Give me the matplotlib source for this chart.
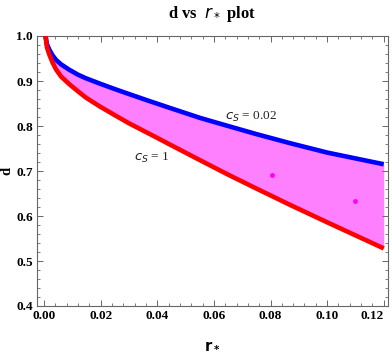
import matplotlib
matplotlib.use("Agg")
import matplotlib.pyplot as plt
import matplotlib.transforms as mtransforms
from matplotlib.ticker import MultipleLocator

# data
r_star = [0.0005, 0.0010, 0.0019, 0.0030, 0.0042, 0.0060, 0.0089, 0.0120, 0.0148, 0.0198,
          0.0250, 0.0300, 0.0374, 0.0450, 0.0551, 0.0650, 0.0750, 0.0868, 0.1000, 0.1100, 0.1200]
d_cs002 = [1.000, 0.982, 0.969, 0.957, 0.947, 0.937, 0.925, 0.914, 0.906, 0.894,
           0.882, 0.871, 0.855, 0.839, 0.818, 0.800, 0.782, 0.762, 0.741, 0.728, 0.715]
d_cs1 = [1.000, 0.975, 0.958, 0.941, 0.926, 0.910, 0.893, 0.877, 0.863, 0.843,
         0.824, 0.806, 0.782, 0.757, 0.724, 0.692, 0.661, 0.625, 0.586, 0.557, 0.528]
dots_r = [0.0805, 0.1100]
dots_d = [0.692, 0.634]
x_ticks = [0.00, 0.02, 0.04, 0.06, 0.08, 0.10, 0.12]
y_ticks = [0.4, 0.5, 0.6, 0.7, 0.8, 0.9, 1.0]

serif = ["Liberation Serif", "DejaVu Serif"]

fig = plt.figure(figsize=(3.92, 3.54), dpi=100)
ax = fig.add_axes([37/392, 1-306/354, (388-37)/392, (306-36)/354])

ax.fill_between(r_star, d_cs1, d_cs002, color="#ff80ff", lw=0, zorder=1)
ax.plot(r_star, d_cs002, color="#0000ff", lw=3.3, solid_capstyle="butt", zorder=3)
ax.plot(r_star, d_cs1, color="#ff0000", lw=3.3, solid_capstyle="butt", zorder=4)
ax.plot(dots_r, dots_d, "o", color="#ff00ff", ms=2.5, zorder=2)

ax.text(0.073, 0.82, r"$c_S$ = 0.02", fontsize=9.5, family=serif, ha="center", va="center", color="#222222")
ax.text(0.038, 0.729, r"$c_S$ = 1", fontsize=9.5, family=serif, ha="center", va="center", color="#222222")

ax.set_xlim(-0.0025, 0.1215)
ax.set_ylim(0.4, 1.0)
ax.set_xticks(x_ticks)
ax.set_yticks(y_ticks)
ax.set_xticklabels([f"{v:.2f}" for v in x_ticks], family=serif, fontweight="bold", fontsize=9.5)
ax.set_yticklabels([f"{v:.1f}" for v in y_ticks], family=serif, fontweight="bold", fontsize=9.5)
last = ax.get_xticklabels()[-1]
last.set_horizontalalignment("right")
last.set_transform(last.get_transform() + mtransforms.ScaledTranslation(0.07, 0, fig.dpi_scale_trans))
ax.xaxis.set_minor_locator(MultipleLocator(0.004))
ax.yaxis.set_minor_locator(MultipleLocator(0.02))
ax.tick_params(which="both", direction="in", top=True, right=True, color="#666666")
ax.tick_params(which="major", length=4.5, width=0.7, pad=3)
ax.tick_params(which="minor", length=2.5, width=0.6)
for s in ax.spines.values():
    s.set_color("#666666")
    s.set_linewidth(0.8)

ax.set_xlabel(r"$\mathbf{r_*}$", fontsize=10.5, family=serif, labelpad=12)
ax.set_ylabel("d", fontsize=10.5, family=serif, fontweight="bold", labelpad=2)
fig.text(212/392, 1-14/354, r"d vs  $\boldsymbol{r_*}$ plot", fontsize=12, family=serif,
         fontweight="bold", ha="center", va="center")

fig.savefig("out.png", dpi=100)
